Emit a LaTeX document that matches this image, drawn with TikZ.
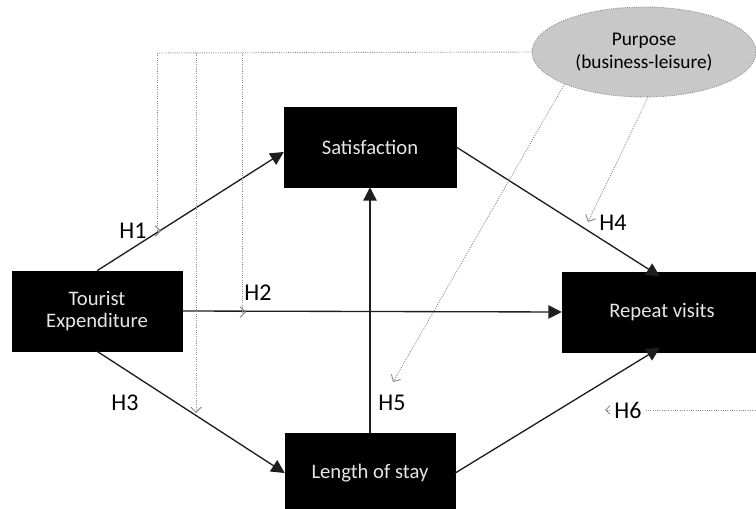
\documentclass[tikz,border=0pt]{standalone}
\usepackage{fontspec}
\setmainfont{Carlito}
\usetikzlibrary{shapes.geometric,arrows.meta,calc}
\definecolor{boxtext}{HTML}{E6E6E6}
\definecolor{lineclr}{HTML}{1E1E1E}
\definecolor{dotclr}{HTML}{8C8C8C}
\definecolor{purfill}{HTML}{C8C8C8}
\tikzset{
  blackbox/.style={rectangle, fill=black, draw=black, text=boxtext, align=center,
    minimum width=127.5pt, minimum height=60pt, inner sep=0pt,
    font=\fontsize{15.5}{17}\selectfont},
  mainarrow/.style={draw=lineclr, line width=1pt, -{Triangle[length=10pt,width=10pt]}},
  modline/.style={draw=dotclr, line width=0.7pt, densely dotted},
  modarrow/.style={modline, -{Straight Barb[length=4pt,width=8pt]}},
  hlabel/.style={text=black, inner sep=1pt, font=\fontsize{18}{20}\selectfont},
}
\begin{document}
\begin{tikzpicture}[x=0.75pt,y=-0.75pt]
\useasboundingbox (0,0) rectangle (756,509);
% nodes
\node[blackbox] (te) at (97,311) {Tourist\\Expenditure};
\node[blackbox, minimum width=129pt] (sat) at (370,147) {Satisfaction};
\node[blackbox, minimum width=150pt] (rv) at (662,312) {Repeat visits};
\node[blackbox] (los) at (370,473) {Length of stay};
\node[ellipse, fill=purfill, draw=dotclr, densely dotted, line width=0.7pt,
      minimum width=168pt, minimum height=67.5pt, inner sep=0pt, align=center,
      font=\fontsize{14.5}{17}\selectfont] (pur) at (644,52) {Purpose\\(business-leisure)};
% main paths
\draw[mainarrow] (te.north) -- ([yshift=-3.75pt]sat.west);
\draw[mainarrow] (te.east) -- (rv.west);
\draw[mainarrow] (te.south) -- (los.west);
\draw[mainarrow] (los.north) -- (sat.south);
\coordinate (rvtop) at (653,272);
\coordinate (rvbot) at (653,352);
\draw[mainarrow, shorten >=-6pt] (sat.east) -- (rvtop);
\draw[mainarrow, shorten >=-6pt] (los.east) -- (rvbot);
% moderator lines
\coordinate (c1) at (157,53);
\coordinate (c2) at (196,53);
\coordinate (c3) at (242,53);
\coordinate (a1) at (161,231);
\coordinate (a2) at (196,413);
\coordinate (a3) at (246,312);
\coordinate (a4) at (393,382);
\coordinate (a5) at (588,222);
\coordinate (h6s) at (760,410);
\coordinate (h6e) at (605,410);
\draw[modline] (pur.west) -- (c1);
\draw[modarrow] (c1) |- (a1);
\draw[modarrow] (c2) -- (a2);
\draw[modarrow] (c3) |- (a3);
\draw[modarrow] (pur.south west) -- (a4);
\draw[modarrow] ([xshift=3pt]pur.south) -- (a5);
\draw[modarrow] (h6s) -- (h6e);
% labels
\node[hlabel] (h1) at (133,231) {H1};
\node[hlabel] (h2) at (258,293) {H2};
\node[hlabel] (h3) at (125,403) {H3};
\node[hlabel] (h4) at (613,223) {H4};
\node[hlabel] (h5) at (392,403) {H5};
\node[hlabel, fill=white, inner xsep=3pt] (h6) at (628,410) {H6};
\end{tikzpicture}
\end{document}
